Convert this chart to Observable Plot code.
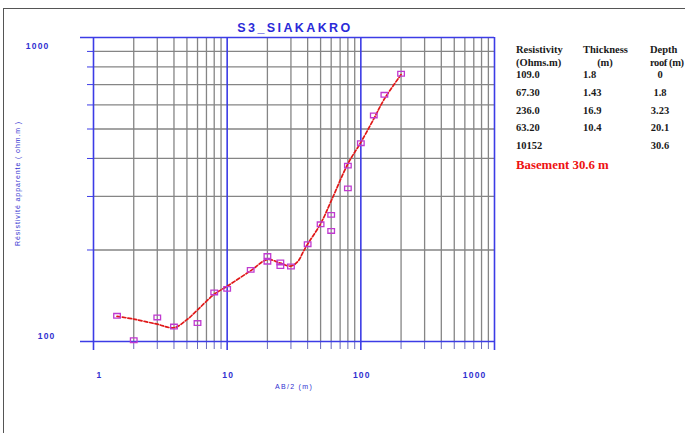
<!DOCTYPE html>
<html><head><meta charset="utf-8">
<script src="https://cdn.jsdelivr.net/npm/d3@7"></script>
<script src="https://cdn.jsdelivr.net/npm/@observablehq/plot@0.6"></script>
<style>
body{margin:0;background:#fff;}
#wrap{position:relative;width:685px;height:433px;overflow:hidden;background:#fff;}
#chart{position:absolute;left:0;top:0;}
#border{position:absolute;left:3px;top:8px;width:720px;height:460px;border-left:1.5px solid #555;border-top:1.5px solid #555;pointer-events:none;}
.tb{position:absolute;font-family:"Liberation Serif",serif;font-weight:bold;font-size:10.5px;line-height:12px;color:#1a1a1a;white-space:nowrap;}
.base{position:absolute;font-family:"Liberation Serif",serif;font-weight:bold;font-size:12.8px;line-height:14px;color:#ee1111;white-space:nowrap;}
</style></head><body>
<div id="wrap"><div id="chart"></div><div id="table"></div><div id="border"></div></div>
<script>
// ---- data ----
const title = "S3_SIAKAKRO";
const xLabel = "AB/2 (m)";
const yLabel = "Résistivité apparente ( ohm.m )";
const xTicks = [1, 10, 100, 1000];
const xTickLabels = ["1", "10", "100", "1000"];
const yTicks = [100, 1000];
const yTickLabels = ["100", "1000"];
const xMinor = [2,3,4,5,6,7,8,9,20,30,40,50,60,70,80,90,200,300,400,500,600,700,800,900];
const yMinor = [200,300,400,500,600,700,800,900];

// field measurements (AB/2, apparent resistivity)
const obsAB = [1.5, 2, 3, 4, 6, 8, 10, 15, 20, 20, 25, 25, 30, 40, 50, 60, 60, 80, 80, 100, 125, 150, 200];
const obsRho = [121.5, 101, 120, 112, 115, 145, 149, 172, 191, 183, 182, 177, 176.5, 209, 243, 261, 231, 379, 319, 449, 554, 648, 760];

// model curve
const modAB = [1.5, 2, 3, 4, 5, 6, 8, 10, 15, 20, 25, 30, 34, 37, 40, 50, 60, 80, 100, 125, 150, 200];
const modRho = [121, 118.5, 114, 111, 118, 127, 143, 152, 171, 186, 181, 177, 184, 197, 209, 244, 290, 384, 452, 540, 628, 755];

// layer table
const tableHead1 = ["Resistivity", "Thickness", "Depth"];
const tableHead2 = ["(Ohms.m)", "(m)", "roof (m)"];
const layerRes = ["109.0", "67.30", "236.0", "63.20", "10152"];
const layerThick = ["1.8", "1.43", "16.9", "10.4", ""];
const layerDepth = ["0", "1.8", "3.23", "20.1", "30.6"];
const basementText = "Basement 30.6 m";

// ---- chart ----
const obs = obsAB.map((x, i) => ({x, y: obsRho[i]}));
const mod = modAB.map((x, i) => ({x, y: modRho[i]}));
const blue = "#3c3ce6";
const labelBlue = "#3030d0";
const rectSymbol = {draw(ctx) { ctx.rect(-3.3, -2.3, 6.6, 4.6); }};
const tickFont = {fill: labelBlue, fontWeight: "bold", fontSize: 8.5, fontFamily: "Liberation Sans, Arial, sans-serif"};

const chart = Plot.plot({
  width: 685, height: 433,
  marginLeft: 93, marginRight: 191, marginTop: 37, marginBottom: 92,
  x: {type: "log", domain: [1, 1000]},
  y: {type: "log", domain: [100, 1000]},
  style: {background: "transparent", fontFamily: "Liberation Sans, Arial, sans-serif", overflow: "visible"},
  marks: [
    Plot.ruleY(yMinor, {y: d => d, stroke: "#858585", strokeWidth: 1.3}),
    Plot.ruleX(xMinor, {x: d => d, stroke: "#858585", strokeWidth: 1.3}),
    Plot.axisX({ticks: xMinor, tickSize: 8, tickFormat: () => "", stroke: "#6a6ab8", label: null}),
    Plot.axisY({ticks: yMinor, tickSize: 6, tickFormat: () => "", stroke: blue, label: null}),
    Plot.ruleX(xTicks, {x: d => d, stroke: blue, strokeWidth: 1.6, insetBottom: -9}),
    Plot.ruleY(yTicks, {y: d => d, stroke: blue, strokeWidth: 1.6, insetLeft: -13}),
    Plot.line(mod, {x: "x", y: "y", stroke: "#e01818", strokeWidth: 1.7, strokeDasharray: "3.5,2", curve: "catmull-rom"}),
    Plot.dot(obs, {x: "x", y: "y", symbol: rectSymbol, stroke: "#c03ad0", strokeWidth: 1.3, fill: "none"}),
    // y tick labels
    Plot.text([yTicks[1]], {y: d => d, text: () => yTickLabels[1], frameAnchor: "left", textAnchor: "end", dx: -44, dy: 9, ...tickFont}),
    Plot.text([yTicks[0]], {y: d => d, text: () => yTickLabels[0], frameAnchor: "left", textAnchor: "end", dx: -38, dy: -5, ...tickFont}),
    // x tick labels
    Plot.text([xTicks[0]], {x: d => d, text: () => xTickLabels[0], frameAnchor: "bottom", textAnchor: "start", dx: 3, dy: 36, ...tickFont}),
    Plot.text(xTicks.slice(1, 3), {x: d => d, text: (d, i) => xTickLabels[i + 1], frameAnchor: "bottom", textAnchor: "middle", dx: 1, dy: 36, ...tickFont}),
    Plot.text([xTicks[3]], {x: d => d, text: () => xTickLabels[3], frameAnchor: "bottom", textAnchor: "end", dx: -8, dy: 36, ...tickFont}),
    // axis titles
    Plot.text([xLabel], {text: d => d, frameAnchor: "bottom", dy: 47, fill: labelBlue, fontSize: 7}),
    Plot.text([yLabel], {text: d => d, frameAnchor: "left", textAnchor: "middle", rotate: -90, dx: -76, dy: -6, fill: labelBlue, fontSize: 7}),
    // title
    Plot.text([title], {text: d => d, frameAnchor: "top", dy: -14, dx: 1, fill: "#2a2ad8", fontWeight: "bold", fontSize: 12.5})
  ]
});
document.getElementById("chart").appendChild(chart);

// letter spacing (not a Plot option)
const spacing = new Map([[title, "2.4px"], [xLabel, "1.3px"], [yLabel, "0.9px"]]);
xTickLabels.concat(yTickLabels).forEach(t => spacing.set(t, "1.2px"));
d3.select(chart).selectAll("text").each(function() {
  const s = spacing.get(this.textContent);
  if (s) this.setAttribute("letter-spacing", s);
});

// ---- table ----
const tbl = document.getElementById("table");
const colLeft = [516, 583, 650];
function cell(text, left, top, cls, width, align) {
  const d = document.createElement("div");
  d.className = cls || "tb";
  d.textContent = text;
  d.style.left = left + "px";
  d.style.top = top + "px";
  if (width) { d.style.width = width + "px"; d.style.textAlign = align || "left"; }
  tbl.appendChild(d);
  return d;
}
tableHead1.forEach((t, j) => cell(t, colLeft[j], 44));
cell(tableHead2[0], colLeft[0], 57);
cell(tableHead2[1], colLeft[1], 57, "tb", 44, "center");
cell(tableHead2[2], colLeft[2], 57).style.letterSpacing = "-0.4px";
const rowTop = [69, 87, 105, 122, 140];
layerRes.forEach((v, i) => {
  cell(v, colLeft[0], rowTop[i]);
  cell(layerThick[i], colLeft[1], rowTop[i]);
  cell(layerDepth[i], colLeft[2], rowTop[i], "tb", 20, "center");
});
cell(basementText, 516, 158, "base");
</script>
</body></html>
